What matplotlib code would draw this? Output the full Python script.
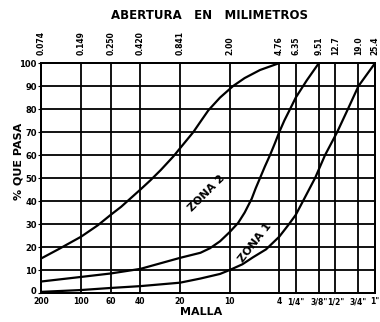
import matplotlib
matplotlib.use("Agg")
import matplotlib.pyplot as plt
import matplotlib.transforms as mtransforms

# aberturas de tamices (mm) y su nombre de malla
aberturas = [0.074, 0.149, 0.250, 0.420, 0.841, 2.00, 4.76, 6.35, 9.51, 12.7, 19.0, 25.4]
etiq_mm = ["0.074", "0.149", "0.250", "0.420", "0.841", "2.00",
           "4.76", "6.35", "9.51", "12.7", "19.0", "25.4"]
etiq_malla = ["200", "100", "60", "40", "20", "10", "4",
              '1/4"', '3/8"', '1/2"', '3/4"', '1"']

# curvas limite
sup_x = [0.074, 0.1, 0.149, 0.2, 0.25, 0.3, 0.42, 0.5, 0.6, 0.75, 0.841, 1.06,
         1.2, 1.38, 1.69, 2.12, 2.6, 3.4, 4.76]
sup_y = [15, 19, 24.5, 29.5, 34, 37.5, 45, 49, 53.5, 59.5, 63, 70,
         74.5, 79.5, 85, 90, 93.5, 97, 100]

med_x = [0.074, 0.149, 0.25, 0.42, 0.841, 1.2, 1.42, 1.69, 2.0, 2.32, 2.6, 2.94,
         3.15, 3.4, 3.7, 4.05, 4.4, 4.76, 5.2, 5.75, 6.35, 7.7, 9.51]
med_y = [5, 7, 8.5, 10.5, 15.3, 17.5, 19.5, 22.5, 26.5, 30.5, 35, 41,
         45.5, 50, 55, 60, 65, 70, 75, 80, 85, 92.5, 100]

inf_x = [0.074, 0.149, 0.25, 0.42, 0.841, 1.2, 1.69, 2.0, 2.5, 3.0, 3.78, 4.76,
         5.65, 6.35, 7.21, 8.9, 10.6, 13.1, 15.8, 19.0, 25.4]
inf_y = [0.5, 1.3, 2.2, 3, 4.5, 6.3, 8.3, 10, 12.5, 15.5, 19, 24.5,
         30, 34, 40, 50, 60, 70, 80, 90, 100]

fig = plt.figure(figsize=(3.8, 3.22), dpi=100)
ax = fig.add_axes([0.108, 0.090, 0.879, 0.714])

ax.set_xscale("log")
ax.set_xlim(0.074, 25.4)
ax.set_ylim(0, 100)

for a in aberturas:
    ax.axvline(a, color="black", lw=1.3, zorder=1)
for v in range(10, 100, 10):
    ax.axhline(v, color="black", lw=1.3, zorder=1)

for xs, ys in [(sup_x, sup_y), (med_x, med_y), (inf_x, inf_y)]:
    ax.plot(xs, ys, color="black", lw=1.6, zorder=3, solid_joinstyle="round")

ax.text(1.34, 43.5, "ZONA 2", rotation=45, ha="center", va="center",
        fontsize=8, fontweight="bold", zorder=4)
ax.text(3.12, 22, "ZONA 1", rotation=52, ha="center", va="center",
        fontsize=8, fontweight="bold", zorder=4)

ax.set_xticks(aberturas)
ax.set_xticklabels(etiq_malla, fontsize=5.5, fontweight="bold")
ax.minorticks_off()
ax.tick_params(axis="x", length=0, pad=3)
ax.set_yticks(range(0, 101, 10))
ax.set_yticklabels([str(v) for v in range(0, 101, 10)], fontsize=6, fontweight="bold")
ax.tick_params(axis="y", length=2, pad=1)
# el "0" un poco mas arriba, como en el original
ax.get_yticklabels()[0].set_transform(
    ax.get_yticklabels()[0].get_transform()
    + mtransforms.ScaledTranslation(0, 2 / 72, fig.dpi_scale_trans))

ax2 = ax.twiny()
ax2.set_xscale("log")
ax2.set_xlim(ax.get_xlim())
ax2.set_xticks(aberturas)
ax2.set_xticklabels(etiq_mm, rotation=90, fontsize=5.5, fontweight="bold")
ax2.minorticks_off()
ax2.tick_params(axis="x", length=0, pad=6)

for axis in (ax, ax2):
    for s in axis.spines.values():
        s.set_linewidth(1.4)

fig.text(0.55, 0.952, "ABERTURA   EN   MILIMETROS", ha="center", va="center",
         fontsize=8.5, fontweight="bold")
fig.text(0.53, 0.03, "MALLA", ha="center", va="center",
         fontsize=8, fontweight="bold")
fig.text(0.048, 0.50, "% QUE PASA", rotation=90, ha="center", va="center",
         fontsize=8, fontweight="bold")

fig.savefig("out.png", dpi=100)
